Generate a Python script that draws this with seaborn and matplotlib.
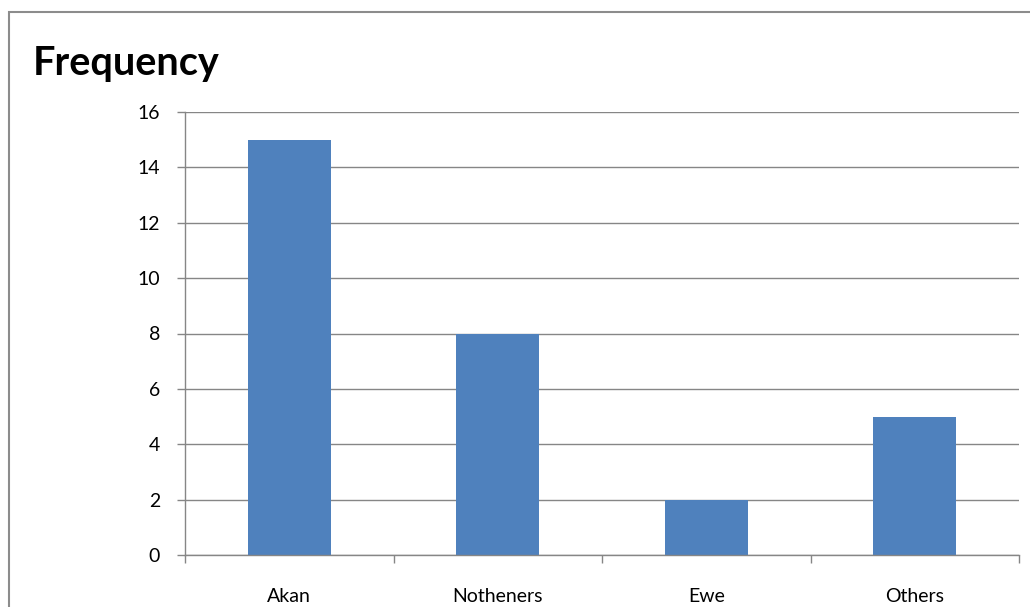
import numpy as np
import pandas as pd
import seaborn as sns
import matplotlib.pyplot as plt
from matplotlib.patches import Rectangle

# ethnic groups and their counts
groups = ["Akan", "Notheners", "Ewe", "Others"]
counts = [15, 8, 2, 5]

sns.set_style("white")
plt.rcParams['font.family'] = ['Lato', 'DejaVu Sans']
plt.rcParams['text.color'] = 'black'
plt.rcParams['xtick.labelcolor'] = 'black'
plt.rcParams['ytick.labelcolor'] = 'black'

fig = plt.figure(figsize=(10.3, 6.07), dpi=100)
ax = fig.add_axes([185/1030, 52/607, 834/1030, 443/607])

df = pd.DataFrame({"group": groups, "count": counts})
sns.barplot(data=df, x="group", y="count", color="#4F81BD", width=0.4,
            saturation=1, linewidth=0, ax=ax)

ax.set_xlim(-0.5, len(groups) - 0.5)
ax.set_ylim(0, 16)
ax.set_yticks(np.arange(0, 17, 2))
ax.yaxis.grid(True, color="#868686", linewidth=1)
ax.set_axisbelow(True)
ax.set_xlabel("")
ax.set_ylabel("")

for s in ["top", "right"]:
    ax.spines[s].set_visible(False)
for s in ["left", "bottom"]:
    ax.spines[s].set_color("#868686")
    ax.spines[s].set_linewidth(1)

# category labels centred, ticks between categories
ax.set_xticks(np.arange(len(groups)))
ax.set_xticks(np.arange(len(groups) + 1) - 0.5, minor=True)
ax.tick_params(axis="x", which="major", length=0, pad=24, labelsize=14)
ax.tick_params(axis="x", which="minor", length=6, color="#868686", width=1,
               direction="out", bottom=True)
ax.tick_params(axis="y", length=6, color="#868686", width=1, direction="out",
               left=True, pad=12, labelsize=14)

fig.text(33/1030, 1 - 63/607, "Frequency", fontsize=28.5, fontweight="bold",
         va="center", ha="left")

# outer chart border
fig.patches.append(Rectangle((9/1030, -0.1), 1.2, 1 - 12/607 + 0.1,
                             transform=fig.transFigure, fill=False,
                             edgecolor="#8c8c8c", linewidth=1.5))

fig.savefig("out.png", dpi=100)
